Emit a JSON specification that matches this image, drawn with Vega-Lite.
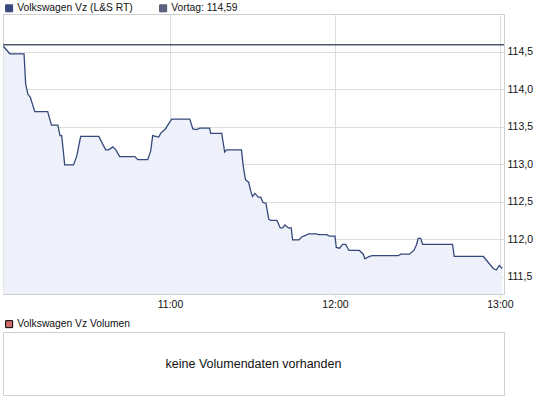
{
  "$schema": "https://vega.github.io/schema/vega-lite/v6.json",
  "background": "white",
  "padding": {"left": 0, "top": 2, "right": 2, "bottom": 2},
  "spacing": 38,
  "bounds": "flush",
  "resolve": {"scale": {"color": "independent"}, "legend": {"color": "independent"}},
  "config": {
    "font": "Liberation Sans",
    "view": {"stroke": "#cfcfcf", "strokeWidth": 1},
    "axis": {"labelFont": "Liberation Sans", "labelFontSize": 10.5, "labelColor": "#111111", "gridColor": "#dddddd", "gridWidth": 1, "domain": false, "tickColor": "#dddddd", "title": null},
    "legend": {"labelFont": "Liberation Sans", "labelFontSize": 10.3, "labelColor": "#111111", "symbolType": "square", "symbolSize": 49, "symbolStrokeWidth": 1, "symbolStrokeColor": "#000000", "symbolOpacity": 1, "padding": 0, "title": null}
  },
  "datasets": {
    "price": [
      {"t": "2011-01-03T09:59:24", "p": 114.57},
      {"t": "2011-01-03T10:01:42", "p": 114.47},
      {"t": "2011-01-03T10:06:54", "p": 114.47},
      {"t": "2011-01-03T10:07:30", "p": 114.07},
      {"t": "2011-01-03T10:08:18", "p": 113.93},
      {"t": "2011-01-03T10:09:12", "p": 113.89},
      {"t": "2011-01-03T10:10:48", "p": 113.70},
      {"t": "2011-01-03T10:15:30", "p": 113.70},
      {"t": "2011-01-03T10:16:54", "p": 113.52},
      {"t": "2011-01-03T10:19:12", "p": 113.52},
      {"t": "2011-01-03T10:20:00", "p": 113.38},
      {"t": "2011-01-03T10:20:36", "p": 113.38},
      {"t": "2011-01-03T10:21:42", "p": 112.99},
      {"t": "2011-01-03T10:24:54", "p": 112.99},
      {"t": "2011-01-03T10:26:06", "p": 113.11},
      {"t": "2011-01-03T10:27:30", "p": 113.37},
      {"t": "2011-01-03T10:34:06", "p": 113.37},
      {"t": "2011-01-03T10:36:36", "p": 113.19},
      {"t": "2011-01-03T10:37:42", "p": 113.19},
      {"t": "2011-01-03T10:39:12", "p": 113.23},
      {"t": "2011-01-03T10:40:18", "p": 113.19},
      {"t": "2011-01-03T10:41:42", "p": 113.10},
      {"t": "2011-01-03T10:47:12", "p": 113.10},
      {"t": "2011-01-03T10:48:18", "p": 113.06},
      {"t": "2011-01-03T10:51:54", "p": 113.06},
      {"t": "2011-01-03T10:53:00", "p": 113.18},
      {"t": "2011-01-03T10:53:42", "p": 113.38},
      {"t": "2011-01-03T10:54:48", "p": 113.37},
      {"t": "2011-01-03T10:55:54", "p": 113.36},
      {"t": "2011-01-03T10:56:36", "p": 113.41},
      {"t": "2011-01-03T10:58:24", "p": 113.47},
      {"t": "2011-01-03T10:59:12", "p": 113.52},
      {"t": "2011-01-03T11:00:36", "p": 113.60},
      {"t": "2011-01-03T11:07:12", "p": 113.60},
      {"t": "2011-01-03T11:08:18", "p": 113.47},
      {"t": "2011-01-03T11:09:42", "p": 113.46},
      {"t": "2011-01-03T11:10:48", "p": 113.48},
      {"t": "2011-01-03T11:14:24", "p": 113.48},
      {"t": "2011-01-03T11:14:48", "p": 113.41},
      {"t": "2011-01-03T11:18:48", "p": 113.41},
      {"t": "2011-01-03T11:19:54", "p": 113.16},
      {"t": "2011-01-03T11:20:36", "p": 113.19},
      {"t": "2011-01-03T11:26:00", "p": 113.19},
      {"t": "2011-01-03T11:26:30", "p": 113.02},
      {"t": "2011-01-03T11:26:54", "p": 112.91},
      {"t": "2011-01-03T11:27:30", "p": 112.79},
      {"t": "2011-01-03T11:28:36", "p": 112.76},
      {"t": "2011-01-03T11:29:18", "p": 112.65},
      {"t": "2011-01-03T11:30:00", "p": 112.57},
      {"t": "2011-01-03T11:30:54", "p": 112.61},
      {"t": "2011-01-03T11:32:06", "p": 112.56},
      {"t": "2011-01-03T11:33:00", "p": 112.56},
      {"t": "2011-01-03T11:33:48", "p": 112.49},
      {"t": "2011-01-03T11:34:54", "p": 112.48},
      {"t": "2011-01-03T11:35:54", "p": 112.27},
      {"t": "2011-01-03T11:36:36", "p": 112.25},
      {"t": "2011-01-03T11:38:54", "p": 112.25},
      {"t": "2011-01-03T11:40:06", "p": 112.15},
      {"t": "2011-01-03T11:41:00", "p": 112.15},
      {"t": "2011-01-03T11:41:48", "p": 112.19},
      {"t": "2011-01-03T11:43:06", "p": 112.15},
      {"t": "2011-01-03T11:44:06", "p": 112.15},
      {"t": "2011-01-03T11:44:36", "p": 111.99},
      {"t": "2011-01-03T11:46:54", "p": 111.99},
      {"t": "2011-01-03T11:47:54", "p": 112.03},
      {"t": "2011-01-03T11:49:18", "p": 112.05},
      {"t": "2011-01-03T11:50:18", "p": 112.07},
      {"t": "2011-01-03T11:53:18", "p": 112.07},
      {"t": "2011-01-03T11:54:06", "p": 112.06},
      {"t": "2011-01-03T11:57:00", "p": 112.06},
      {"t": "2011-01-03T11:58:00", "p": 112.04},
      {"t": "2011-01-03T12:00:00", "p": 112.04},
      {"t": "2011-01-03T12:00:30", "p": 111.89},
      {"t": "2011-01-03T12:01:42", "p": 111.88},
      {"t": "2011-01-03T12:02:48", "p": 111.93},
      {"t": "2011-01-03T12:03:54", "p": 111.93},
      {"t": "2011-01-03T12:05:06", "p": 111.85},
      {"t": "2011-01-03T12:08:54", "p": 111.85},
      {"t": "2011-01-03T12:10:18", "p": 111.80},
      {"t": "2011-01-03T12:10:54", "p": 111.74},
      {"t": "2011-01-03T12:12:30", "p": 111.77},
      {"t": "2011-01-03T12:13:42", "p": 111.78},
      {"t": "2011-01-03T12:23:06", "p": 111.78},
      {"t": "2011-01-03T12:23:54", "p": 111.80},
      {"t": "2011-01-03T12:27:06", "p": 111.80},
      {"t": "2011-01-03T12:28:42", "p": 111.85},
      {"t": "2011-01-03T12:29:36", "p": 111.92},
      {"t": "2011-01-03T12:30:18", "p": 112.01},
      {"t": "2011-01-03T12:31:12", "p": 112.01},
      {"t": "2011-01-03T12:31:54", "p": 111.93},
      {"t": "2011-01-03T12:42:48", "p": 111.93},
      {"t": "2011-01-03T12:43:24", "p": 111.77},
      {"t": "2011-01-03T12:54:00", "p": 111.77},
      {"t": "2011-01-03T12:57:36", "p": 111.61},
      {"t": "2011-01-03T12:58:42", "p": 111.59},
      {"t": "2011-01-03T12:59:48", "p": 111.65},
      {"t": "2011-01-03T13:00:54", "p": 111.61}
    ],
    "prev": [{"series": "Vortag: 114,59", "p": 114.59}],
    "vol": [{"msg": "keine Volumendaten vorhanden", "series": "Volkswagen Vz Volumen"}]
  },
  "vconcat": [
    {
      "width": 501,
      "height": 280,
      "view": {"stroke": "#cfcfcf", "strokeWidth": 1},
      "layer": [
        {
          "data": {"name": "price"},
          "mark": {"type": "area", "color": "#eef1f9", "opacity": 1, "clip": true},
          "encoding": {
            "x": {
              "field": "t", "type": "temporal",
              "scale": {"domain": [
                {"year": 2011, "month": 1, "date": 3, "hours": 9, "minutes": 59, "seconds": 15},
                {"year": 2011, "month": 1, "date": 3, "hours": 13, "minutes": 1, "seconds": 30}
              ]},
              "axis": {
                "format": "%H:%M",
                "values": [
                  {"year": 2011, "month": 1, "date": 3, "hours": 11},
                  {"year": 2011, "month": 1, "date": 3, "hours": 12},
                  {"year": 2011, "month": 1, "date": 3, "hours": 13}
                ],
                "grid": true, "tickSize": 3, "labelPadding": 2, "labelFlush": false, "labelOverlap": false
              }
            },
            "y": {
              "field": "p", "type": "quantitative",
              "scale": {"domain": [111.27, 115.0], "zero": false, "nice": false},
              "axis": {
                "orient": "right",
                "values": [111.5, 112, 112.5, 113, 113.5, 114, 114.5],
                "labelExpr": "replace(format(datum.value, '.1f'), '.', ',')",
                "grid": true, "tickSize": 0, "labelPadding": 3
              }
            },
            "y2": {"datum": 111.27}
          }
        },
        {
          "data": {"name": "price"},
          "mark": {"type": "line", "strokeWidth": 1.3},
          "encoding": {
            "x": {"field": "t", "type": "temporal"},
            "y": {"field": "p", "type": "quantitative"},
            "color": {
              "datum": "Volkswagen Vz (L&S RT)",
              "type": "nominal",
              "scale": {"domain": ["Volkswagen Vz (L&S RT)", "Vortag: 114,59"], "range": ["#34497a", "#4f566e"]},
              "legend": {
                "orient": "none", "legendX": 1, "legendY": -11, "direction": "horizontal", "columns": 2,
                "gridAlign": "all", "columnPadding": 24, "labelOffset": 3, "symbolType": "square",
                "encode": {"symbols": {"update": {
                  "fill": [{"test": "datum.value === 'Vortag: 114,59'", "value": "#5c6280"}, {"value": "#34497a"}],
                  "stroke": {"value": "#000000"}, "strokeWidth": {"value": 1}, "opacity": {"value": 1}
                }}}
              }
            }
          }
        },
        {
          "data": {"name": "prev"},
          "mark": {"type": "rule", "strokeWidth": 1.5},
          "encoding": {
            "y": {"field": "p", "type": "quantitative"},
            "color": {"field": "series", "type": "nominal"}
          }
        }
      ]
    },
    {
      "width": 501,
      "height": 63,
      "view": {"stroke": "#cfcfcf", "strokeWidth": 1, "fill": "white"},
      "data": {"name": "vol"},
      "layer": [
        {
          "mark": {"type": "text", "fontSize": 12.5, "color": "#111111", "font": "Liberation Sans"},
          "encoding": {"text": {"field": "msg"}}
        },
        {
          "mark": {"type": "point", "filled": true, "opacity": 0},
          "encoding": {
            "color": {
              "field": "series", "type": "nominal",
              "scale": {"range": ["#d06a6a"]},
              "legend": {
                "orient": "none", "legendX": 1, "legendY": -13, "labelOffset": 3, "symbolType": "square",
                "encode": {"symbols": {"update": {
                  "fill": {"value": "#d06a6a"}, "stroke": {"value": "#000000"}, "strokeWidth": {"value": 1}, "opacity": {"value": 1}
                }}}
              }
            }
          }
        }
      ]
    }
  ]
}
